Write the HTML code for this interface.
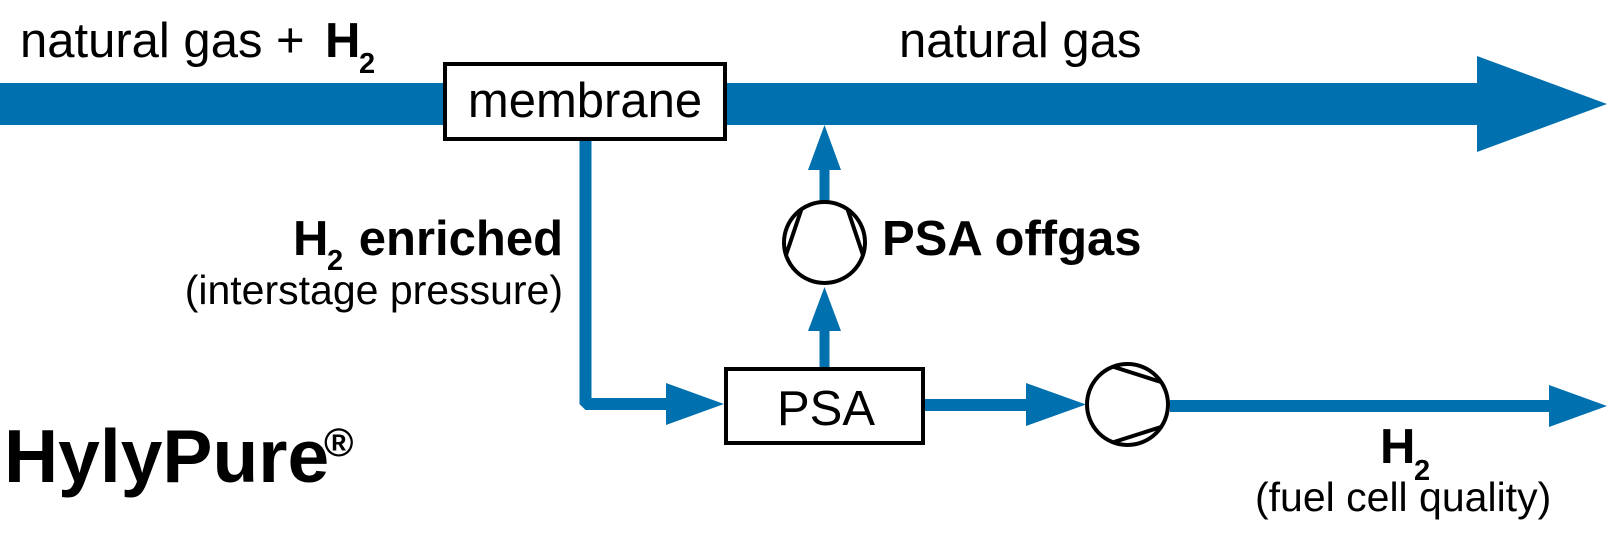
<!DOCTYPE html>
<html>
<head>
<meta charset="utf-8">
<style>
  html, body { margin: 0; padding: 0; background: #ffffff; }
  body { width: 1608px; height: 551px; overflow: hidden; }
  svg { display: block; }
  text { font-family: "Liberation Sans", Arial, sans-serif; fill: #000; }
  .b { font-weight: bold; }
</style>
</head>
<body>
<svg width="1608" height="551" viewBox="0 0 1608 551" xmlns="http://www.w3.org/2000/svg">
  <!-- main natural gas band -->
  <rect x="0" y="83" width="1478" height="42" fill="#0070ae"/>
  <polygon points="1477,56 1607,104 1477,152" fill="#0070ae"/>

  <!-- membrane box -->
  <rect x="445" y="64" width="280" height="75" fill="#fff" stroke="#000" stroke-width="4"/>
  <text x="585" y="117" font-size="49" text-anchor="middle">membrane</text>

  <!-- H2 enriched line from membrane to PSA -->
  <polyline points="585.5,141 585.5,404 668,404" fill="none" stroke="#0070ae" stroke-width="12" stroke-linejoin="bevel"/>
  <polygon points="666,383 724,404 666,425" fill="#0070ae"/>

  <!-- PSA box -->
  <rect x="726" y="369" width="197" height="74" fill="#fff" stroke="#000" stroke-width="4"/>
  <text x="826" y="425" font-size="49" text-anchor="middle">PSA</text>

  <!-- offgas column -->
  <rect x="819.5" y="329" width="10" height="38" fill="#0070ae"/>
  <polygon points="808,331 841,331 824.5,287" fill="#0070ae"/>
  <rect x="819.5" y="168" width="10" height="34" fill="#0070ae"/>
  <polygon points="808,170 841,170 824.5,125" fill="#0070ae"/>

  <!-- compressor 1 (upwards) -->
  <circle cx="824.5" cy="242.5" r="40.5" fill="#fff" stroke="#000" stroke-width="4"/>
  <line x1="801.5" y1="209" x2="786" y2="255" stroke="#000" stroke-width="4"/>
  <line x1="847.5" y1="209" x2="863" y2="255" stroke="#000" stroke-width="4"/>

  <!-- PSA to compressor 2 -->
  <rect x="925" y="399" width="103" height="12" fill="#0070ae"/>
  <polygon points="1026,383 1086,404.5 1026,426" fill="#0070ae"/>

  <!-- compressor 2 (rightwards) -->
  <circle cx="1127.5" cy="404.5" r="40.5" fill="#fff" stroke="#000" stroke-width="4"/>
  <line x1="1114" y1="367" x2="1161" y2="382" stroke="#000" stroke-width="4"/>
  <line x1="1114" y1="442" x2="1161" y2="427" stroke="#000" stroke-width="4"/>

  <!-- H2 output line -->
  <rect x="1170" y="400" width="381" height="12" fill="#0070ae"/>
  <polygon points="1549,385 1607,406 1549,427" fill="#0070ae"/>

  <!-- labels -->
  <text x="20" y="57" font-size="49">natural gas +</text>
  <text x="325" y="57" font-size="49" class="b">H</text>
  <text x="359" y="73" font-size="29" class="b">2</text>

  <text x="899" y="57" font-size="49">natural gas</text>

  <text x="293" y="255" font-size="49" class="b">H</text>
  <text x="327" y="270" font-size="29" class="b">2</text>
  <text x="563" y="255" font-size="49" class="b" text-anchor="end">enriched</text>
  <text x="563" y="304" font-size="41" text-anchor="end">(interstage pressure)</text>

  <text x="882" y="255" font-size="49" class="b">PSA offgas</text>

  <text x="4" y="482" font-size="75" class="b">HylyPure</text>
  <text x="324" y="456" font-size="40" class="b">®</text>

  <text x="1380" y="463" font-size="49" class="b">H</text>
  <text x="1414" y="480" font-size="29" class="b">2</text>
  <text x="1255" y="511" font-size="41">(fuel cell quality)</text>
</svg>
</body>
</html>
